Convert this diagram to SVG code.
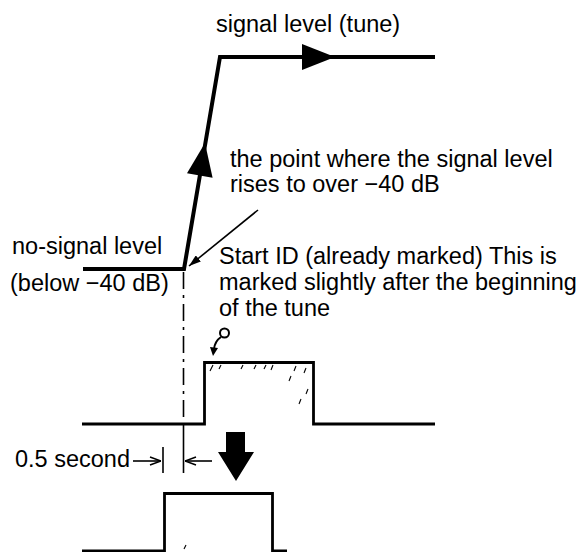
<svg xmlns="http://www.w3.org/2000/svg" width="583" height="552" viewBox="0 0 583 552">
<style>
text{font-family:"Liberation Sans",Arial,sans-serif;font-size:23.5px;fill:#000}
.thick{fill:none;stroke:#000;stroke-width:4;stroke-linejoin:miter;stroke-linecap:butt}
.pulse{fill:none;stroke:#000;stroke-width:2.8}
.thin{fill:none;stroke:#000;stroke-width:1.6}
.hatch{fill:none;stroke:#000;stroke-width:1.1}
.fill{fill:#000;stroke:none}
</style>
<rect width="583" height="552" fill="#fff"/>
<defs>
<marker id="lead" viewBox="0 0 12 8" refX="12" refY="4" markerWidth="12" markerHeight="8" markerUnits="userSpaceOnUse" orient="auto">
<path d="M0,0 L12,4 L0,8 Z" fill="#000"/>
</marker>
<marker id="dim" viewBox="0 0 12 10" refX="12" refY="5" markerWidth="12" markerHeight="10" markerUnits="userSpaceOnUse" orient="auto">
<path d="M1,1 L12,5 L1,9" fill="none" stroke="#000" stroke-width="1.6"/>
</marker>
</defs>

<g id="labels">
<text x="216" y="32">signal level (tune)</text>
<text x="230" y="167">the point where the signal level</text>
<text x="230" y="192">rises to over −40 dB</text>
<text x="12" y="254">no-signal level</text>
<text x="10" y="291">(below −40 dB)</text>
<text x="219" y="264">Start ID (already marked) This is</text>
<text x="219" y="290">marked slightly after the beginning</text>
<text x="219" y="316">of the tune</text>
<text x="15" y="467">0.5 second</text>
</g>

<g id="signal-level">
<path class="thick" d="M83,269 H184 L220,57 H435"/>
<polygon class="fill" points="335,57 302,44 302,70"/>
<polygon class="fill" points="205,143 212.6,177.7 187,173.3"/>
</g>

<g id="upper-pulse">
<path class="pulse" d="M82,424 H204.5 V362.5 H313.5 V424 H435"/>
<g class="hatch">
<path d="M210,371 L213,365"/>
<path d="M219,369 L221,365"/>
<path d="M241,369 L243,365"/>
<path d="M254,369 L256,365"/>
<path d="M264,369 L266,365"/>
<path d="M271,370 L273,365"/>
<path d="M294,371 L296,366"/>
<path d="M289,381 L291,376"/>
<path d="M304,373 L306,368"/>
<path d="M306,394 L308,389"/>
<path d="M299,404 L301,399"/>
</g>
</g>

<g id="start-id-mark">
<circle cx="224.5" cy="333" r="4.5" fill="none" stroke="#000" stroke-width="2"/>
<path d="M221,337 Q215,341 214,349" fill="none" stroke="#000" stroke-width="2"/>
<polygon class="fill" points="210,347 218,348 213,356"/>
</g>

<g id="lower-pulse">
<path class="pulse" d="M82,551 H164.5 V493.5 H272.5 V551 H287"/>
<path class="hatch" d="M184,549 L186,545"/>
</g>

<g id="down-arrow">
<polygon class="fill" points="226,432 245,432 245,452 254,452 236,481 218,452 226,452"/>
</g>

<g id="connectors">
<path class="thin" d="M183.5,272 V424" stroke-dasharray="17 6 3 6" stroke-width="2"/>
<path class="thin" d="M183.5,424 V473" stroke-width="1.8"/>
<path class="thin" d="M258,210 L189,266" marker-end="url(#lead)"/>
<path class="thin" d="M163,447 V473"/>
<path class="thin" d="M133,461 H161" marker-end="url(#dim)"/>
<path class="thin" d="M212,461 H185" marker-end="url(#dim)"/>
</g>
</svg>
